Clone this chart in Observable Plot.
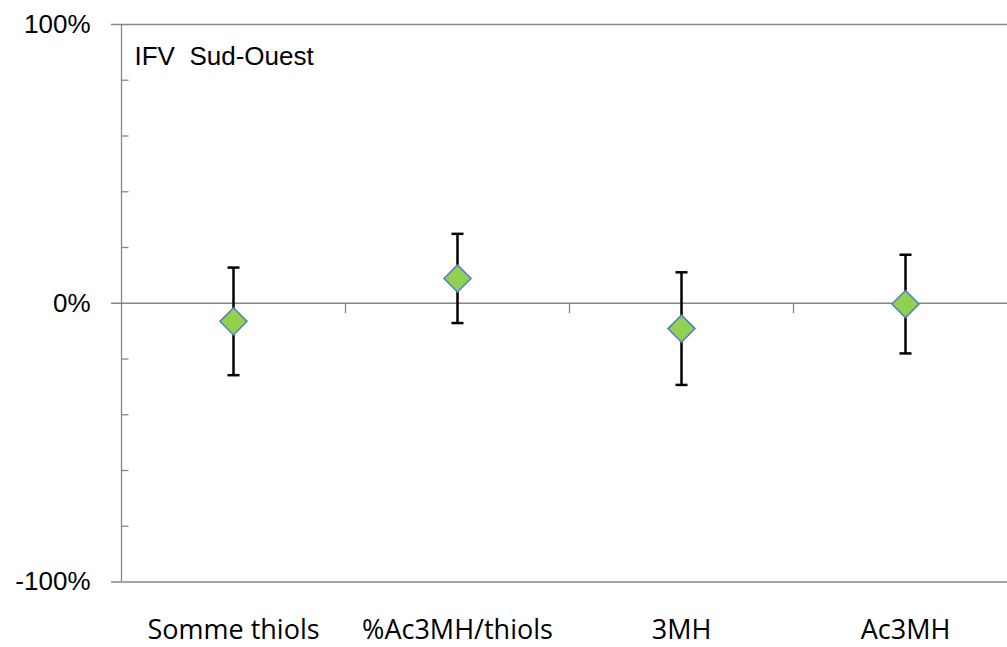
<!DOCTYPE html>
<html>
<head>
<meta charset="utf-8">
<script src="https://cdn.jsdelivr.net/npm/d3@7"></script>
<script src="https://cdn.jsdelivr.net/npm/@observablehq/plot@0.6"></script>
<style>
  html, body { margin: 0; padding: 0; background: #fff; overflow: hidden; }
  svg { max-width: none !important; display: block; }
  svg text { white-space: pre; }
</style>
</head>
<body>
<div id="chart"></div>
<script>
// ---- data ----
const categories = ["Somme thiols", "%Ac3MH/thiols", "3MH", "Ac3MH"];
const values = [-6.5, 8.9, -9.1, -0.3];
const errors = [19.3, 16.0, 20.2, 17.7];
const yTicks = [-100, 0, 100];
const yMinorTicks = [-80, -60, -40, -20, 20, 40, 60, 80];
const panelLabel = ["IFV  Sud-Ouest"];

const data = categories.map((c, i) => ({
  c, x: i + 0.5, v: values[i], lo: values[i] - errors[i], hi: values[i] + errors[i]
}));
const bounds = d3.range(1, categories.length);
const catPos = categories.map((c, i) => i + 0.5);

// custom line symbols
const hLineRight = {draw(ctx) { ctx.moveTo(0, 0); ctx.lineTo(7, 0); }};
const vLineDown = {draw(ctx) { ctx.moveTo(0, 0); ctx.lineTo(0, 10); }};
const cap = {draw(ctx) { ctx.moveTo(-6, 0); ctx.lineTo(6, 0); }};

const gray = "#878787";

const chart = Plot.plot({
  width: 1017,
  height: 647,
  marginLeft: 121,
  marginRight: 0,
  marginTop: 24,
  marginBottom: 65.5,
  x: {domain: [0, categories.length], axis: null},
  y: {domain: [-100, 100], axis: null},
  style: {background: "#fff", color: "#000", maxWidth: "none"},
  marks: [
    Plot.ruleY(yTicks, {stroke: gray, strokeWidth: 1.3, insetLeft: -10}),
    Plot.ruleX([0], {stroke: gray, strokeWidth: 1.3}),
    Plot.dot(yMinorTicks, {x: 0, y: d => d, symbol: hLineRight, fill: "none", stroke: gray, strokeWidth: 1.3}),
    Plot.dot(bounds, {x: d => d, y: 0, symbol: vLineDown, fill: "none", stroke: gray, strokeWidth: 1.3}),
    Plot.axisY({
      ticks: yTicks, tickSize: 0, tickPadding: 31,
      tickFormat: d => d + "%", label: null,
      fontFamily: "Liberation Sans, Arial, sans-serif", fontSize: 26, fill: "#000"
    }),
    Plot.axisX({
      ticks: catPos, tickSize: 0, tickPadding: 38,
      tickFormat: d => categories[Math.floor(d)], label: null,
      fontFamily: "Open Sans, sans-serif", fontSize: 27, fill: "#000"
    }),
    Plot.text(panelLabel, {
      frameAnchor: "top-left", dx: 13, dy: 22.5, text: d => d,
      fontFamily: "Liberation Sans, Arial, sans-serif", fontSize: 26, fill: "#000"
    }),
    Plot.ruleX(data, {x: "x", y1: "lo", y2: "hi", stroke: "#000", strokeWidth: 2.5}),
    Plot.dot(data, {x: "x", y: "lo", symbol: cap, fill: "none", stroke: "#000", strokeWidth: 2.5}),
    Plot.dot(data, {x: "x", y: "hi", symbol: cap, fill: "none", stroke: "#000", strokeWidth: 2.5}),
    Plot.dot(data, {x: "x", y: "v", symbol: "diamond2", r: 12.2, fill: "#92d050", stroke: "#4f81bd", strokeWidth: 1.5})
  ]
});
document.getElementById("chart").appendChild(chart);
</script>
</body>
</html>
